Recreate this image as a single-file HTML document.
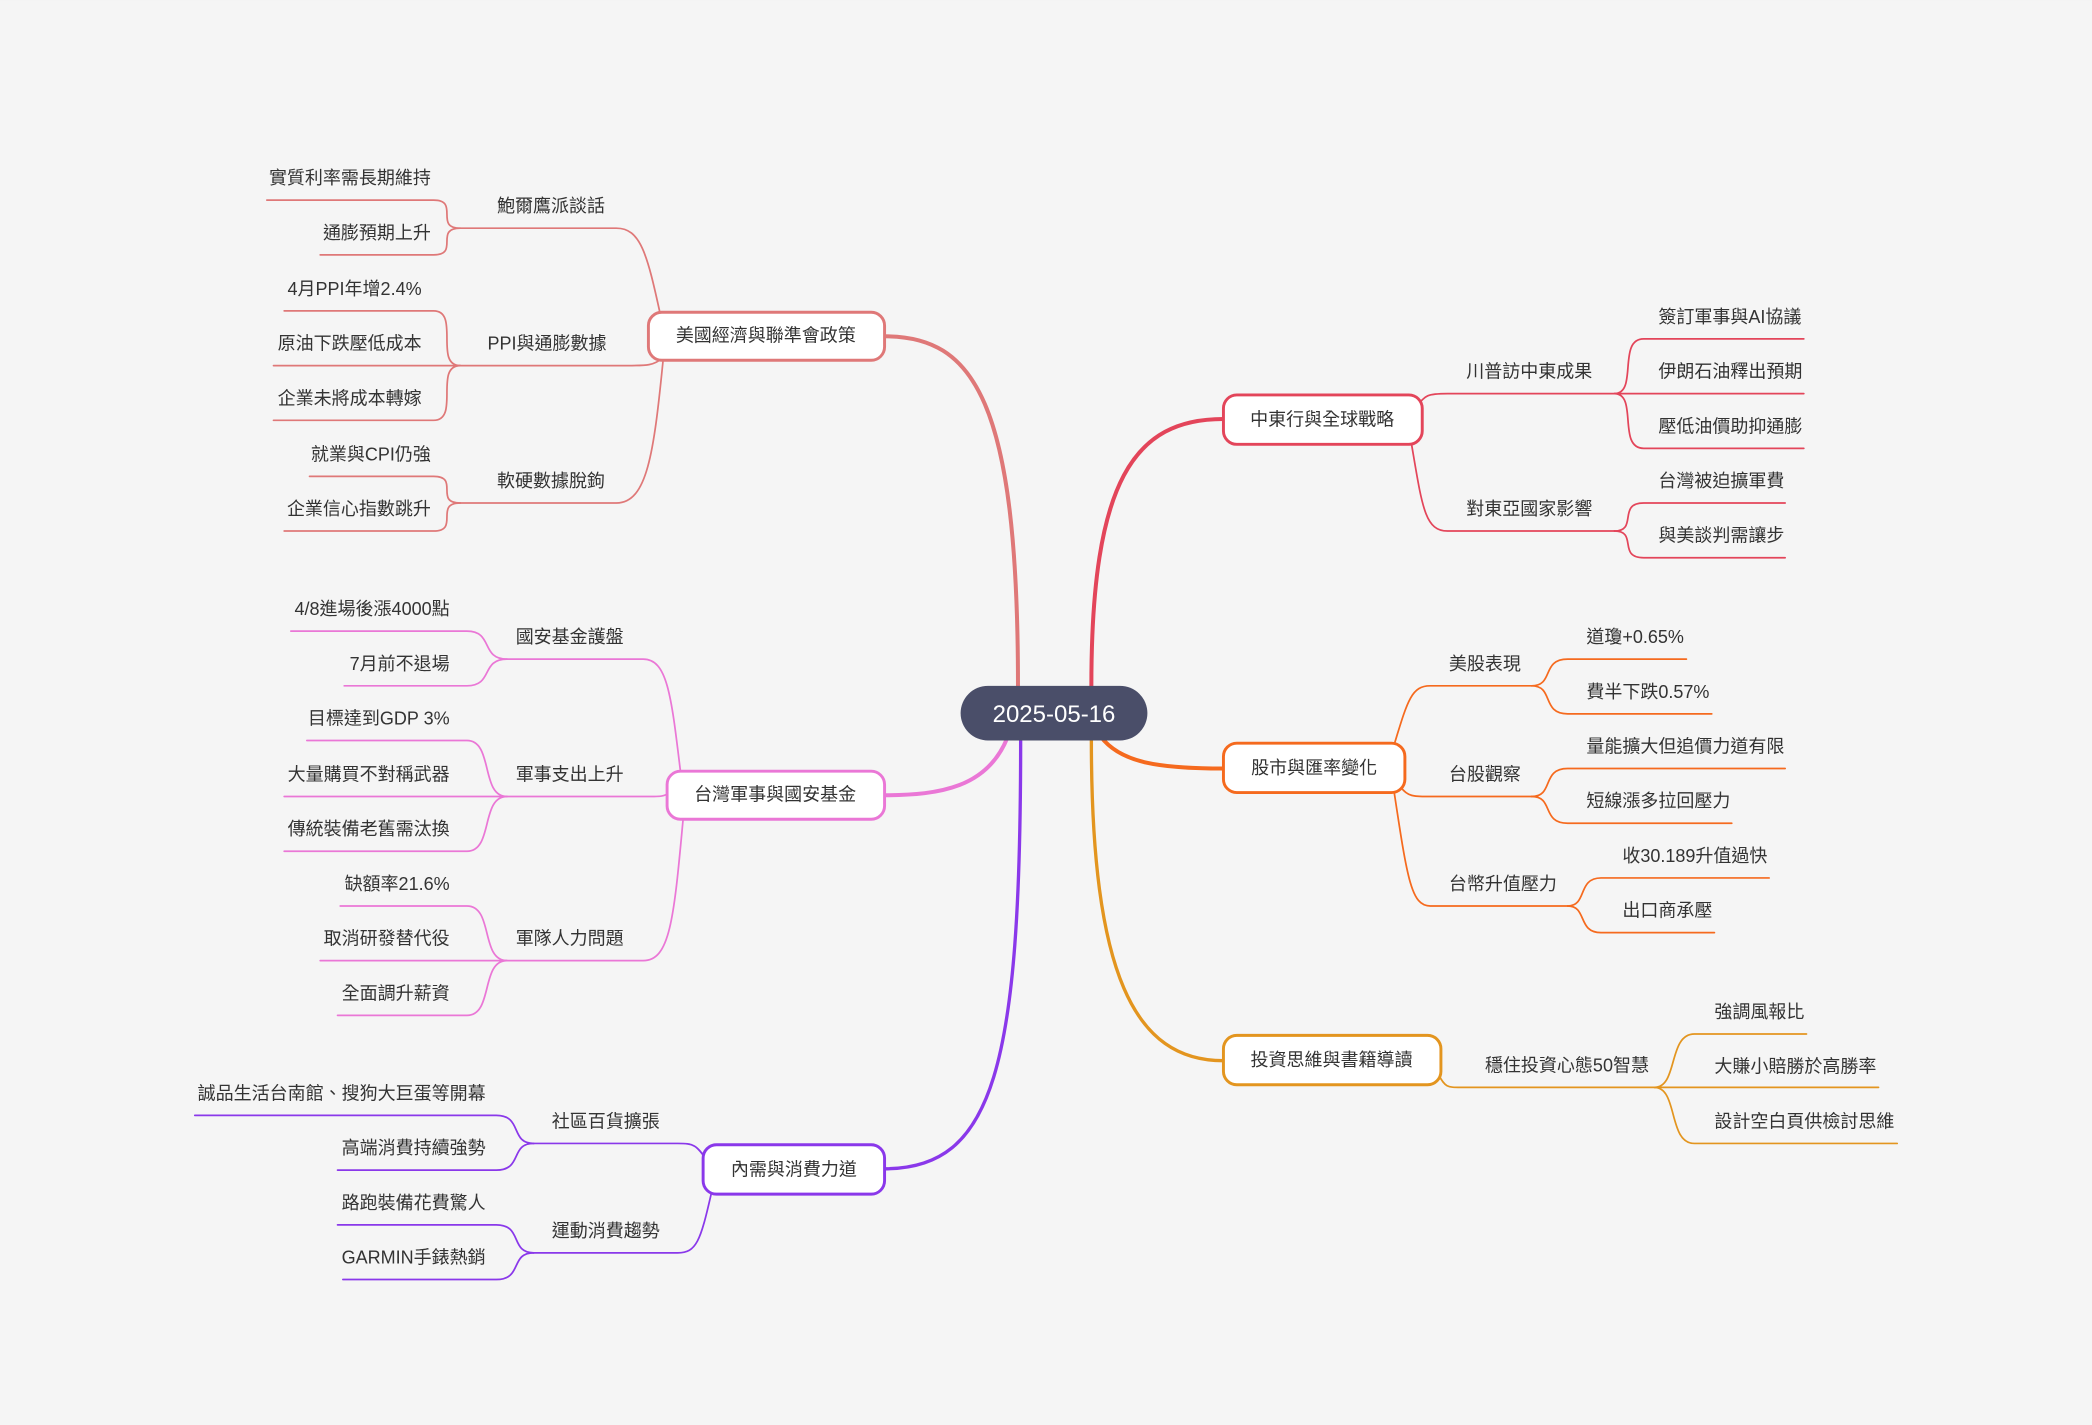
<!DOCTYPE html>
<html><head><meta charset="utf-8"><style>
html,body{margin:0;padding:0;background:#f5f5f5;}
svg{display:block;}
text{font-family:"Liberation Sans","Noto Sans CJK TC",sans-serif;font-size:13.5px;fill:#333;}
</style></head><body>
<svg width="2092" height="1425" viewBox="0 0 1568 1068" xmlns="http://www.w3.org/2000/svg">
<rect width="1568" height="1068" fill="#f5f5f5"/>
<g fill="none" stroke-linecap="round">
<!-- main connectors -->
<path d="M763,514 C763,300 730,252 663,252" stroke="#df7878" stroke-width="3"/>
<path d="M818,514 C818,360 850,314 917,314" stroke="#e3455a" stroke-width="3"/>
<path d="M825,552 C840,572 870,576 917,576" stroke="#f56a1e" stroke-width="3"/>
<path d="M818,555 C818,730 850,795 917,795" stroke="#e3951f" stroke-width="2.5"/>
<path d="M755,553 C740,590 705,596 663,596" stroke="#ea77d6" stroke-width="3"/>
<path d="M765,555 C765,800 745,876 663,876" stroke="#8a38ea" stroke-width="2.5"/>

<!-- US econ (left top) -->
<g stroke="#df7878" stroke-width="1.3">
<path d="M495,236 C485,190 480,171 462,171 L345,171"/>
<path d="M345,171 C325,171 345,150 325,150 L200,150"/>
<path d="M345,171 C325,171 345,191 325,191 L240,191"/>
<path d="M497,268 C490,274 485,274 470,274 L205,274"/>
<path d="M345,274 C325,274 345,233 325,233 L213,233"/>
<path d="M345,274 C325,274 345,315 325,315 L205,315"/>
<path d="M497,270 C490,340 485,377 462,377 L345,377"/>
<path d="M345,377 C325,377 345,357 325,357 L232,357"/>
<path d="M345,377 C325,377 345,398 325,398 L213,398"/>
</g>
<!-- Middle East -->
<g stroke="#e3455a" stroke-width="1.3">
<path d="M1062,305 C1068,296 1070,295 1085,295 L1352,295"/>
<path d="M1210,295 C1228,295 1212,254 1232,254 L1352,254"/>
<path d="M1210,295 C1228,295 1212,336 1232,336 L1352,336"/>
<path d="M1058,333 C1066,380 1068,398 1085,398 L1210,398"/>
<path d="M1210,398 C1228,398 1212,377 1232,377 L1338,377"/>
<path d="M1210,398 C1228,398 1212,418 1232,418 L1338,418"/>
</g>
<!-- Stock -->
<g stroke="#f56a1e" stroke-width="1.3">
<path d="M1045,558 C1055,525 1058,514 1072,514 L1148,514"/>
<path d="M1148,514 C1165,514 1155,494 1175,494 L1264,494"/>
<path d="M1148,514 C1165,514 1155,535 1175,535 L1283,535"/>
<path d="M1050,590 C1055,597 1060,597 1070,597 L1148,597"/>
<path d="M1148,597 C1165,597 1155,576 1175,576 L1338,576"/>
<path d="M1148,597 C1165,597 1155,617 1175,617 L1298,617"/>
<path d="M1045,594 C1055,660 1058,679 1072,679 L1175,679"/>
<path d="M1175,679 C1190,679 1182,658 1200,658 L1326,658"/>
<path d="M1175,679 C1190,679 1182,699 1200,699 L1285,699"/>
</g>
<!-- Investing -->
<g stroke="#e3951f" stroke-width="1.3">
<path d="M1078,805 C1083,815 1085,815 1095,815 L1408,815"/>
<path d="M1240,815 C1258,815 1250,775 1270,775 L1354,775"/>
<path d="M1240,815 C1258,815 1250,857 1270,857 L1422,857"/>
</g>
<!-- Taiwan military -->
<g stroke="#ea77d6" stroke-width="1.3">
<path d="M510,578 C503,520 500,494 482,494 L380,494"/>
<path d="M380,494 C360,494 370,473 350,473 L218,473"/>
<path d="M380,494 C360,494 370,514 350,514 L258,514"/>
<path d="M502,594 C498,597 495,597 485,597 L213,597"/>
<path d="M380,597 C360,597 370,555 350,555 L230,555"/>
<path d="M380,597 C360,597 370,638 350,638 L213,638"/>
<path d="M512,614 C505,690 502,720 482,720 L240,720"/>
<path d="M380,720 C360,720 370,679 350,679 L255,679"/>
<path d="M380,720 C360,720 370,761 350,761 L253,761"/>
</g>
<!-- Consumer -->
<g stroke="#8a38ea" stroke-width="1.3">
<path d="M530,870 C522,858 520,857 508,857 L400,857"/>
<path d="M400,857 C382,857 392,836 372,836 L146,836"/>
<path d="M400,857 C382,857 392,877 372,877 L253,877"/>
<path d="M533,895 C525,930 522,939 508,939 L400,939"/>
<path d="M400,939 C382,939 392,918 372,918 L253,918"/>
<path d="M400,939 C382,939 392,959 372,959 L257,959"/>
</g>
</g>

<!-- center -->
<rect x="720" y="514" width="140" height="41" rx="20.5" fill="#4a4e69"/>
<text x="790" y="541" text-anchor="middle" style="font-size:18px;fill:#fff">2025-05-16</text>

<!-- branch nodes -->
<g stroke-width="2.2" fill="#fff">
<rect x="486" y="234" width="177" height="36" rx="10" stroke="#df7878"/>
<rect x="917" y="296" width="149" height="37" rx="10" stroke="#e3455a"/>
<rect x="917" y="557" width="136" height="37" rx="10" stroke="#f56a1e"/>
<rect x="917" y="776" width="163" height="37" rx="10" stroke="#e3951f"/>
<rect x="500" y="578" width="163" height="36" rx="10" stroke="#ea77d6"/>
<rect x="527" y="858" width="136" height="37" rx="10" stroke="#8a38ea"/>
</g>
<g text-anchor="middle">
<text x="574" y="256">美國經濟與聯準會政策</text>
<text x="991" y="319">中東行與全球戰略</text>
<text x="985" y="580">股市與匯率變化</text>
<text x="998" y="799">投資思維與書籍導讀</text>
<text x="581" y="600">台灣軍事與國安基金</text>
<text x="595" y="881">內需與消費力道</text>
</g>

<!-- left sub & leaves -->
<g text-anchor="middle">
<text x="413" y="159">鮑爾鷹派談話</text>
<text x="410" y="262">PPI與通膨數據</text>
<text x="413" y="365">軟硬數據脫鉤</text>
<text x="427" y="482">國安基金護盤</text>
<text x="427" y="585">軍事支出上升</text>
<text x="427" y="708">軍隊人力問題</text>
<text x="454" y="845">社區百貨擴張</text>
<text x="454" y="927">運動消費趨勢</text>
</g>
<g text-anchor="end">
<text x="323" y="138">實質利率需長期維持</text>
<text x="323" y="179">通膨預期上升</text>
<text x="316" y="221">4月PPI年增2.4%</text>
<text x="316" y="262">原油下跌壓低成本</text>
<text x="316" y="303">企業未將成本轉嫁</text>
<text x="323" y="345">就業與CPI仍強</text>
<text x="323" y="386">企業信心指數跳升</text>
<text x="337" y="461">4/8進場後漲4000點</text>
<text x="337" y="502">7月前不退場</text>
<text x="337" y="543">目標達到GDP 3%</text>
<text x="337" y="585">大量購買不對稱武器</text>
<text x="337" y="626">傳統裝備老舊需汰換</text>
<text x="337" y="667">缺額率21.6%</text>
<text x="337" y="708">取消研發替代役</text>
<text x="337" y="749">全面調升薪資</text>
<text x="364" y="824">誠品生活台南館、搜狗大巨蛋等開幕</text>
<text x="364" y="865">高端消費持續強勢</text>
<text x="364" y="906">路跑裝備花費驚人</text>
<text x="364" y="947">GARMIN手錶熱銷</text>
</g>
<!-- right sub & leaves -->
<g>
<text x="1099" y="283">川普訪中東成果</text>
<text x="1099" y="386">對東亞國家影響</text>
<text x="1086" y="502">美股表現</text>
<text x="1086" y="585">台股觀察</text>
<text x="1086" y="667">台幣升值壓力</text>
<text x="1113" y="803">穩住投資心態50智慧</text>
<text x="1243" y="242">簽訂軍事與AI協議</text>
<text x="1243" y="283">伊朗石油釋出預期</text>
<text x="1243" y="324">壓低油價助抑通膨</text>
<text x="1243" y="365">台灣被迫擴軍費</text>
<text x="1243" y="406">與美談判需讓步</text>
<text x="1189" y="482">道瓊+0.65%</text>
<text x="1189" y="523">費半下跌0.57%</text>
<text x="1189" y="564">量能擴大但追價力道有限</text>
<text x="1189" y="605">短線漲多拉回壓力</text>
<text x="1216" y="646">收30.189升值過快</text>
<text x="1216" y="687">出口商承壓</text>
<text x="1285" y="763">強調風報比</text>
<text x="1285" y="804">大賺小賠勝於高勝率</text>
<text x="1285" y="845">設計空白頁供檢討思維</text>
</g>
</svg>
</body></html>
